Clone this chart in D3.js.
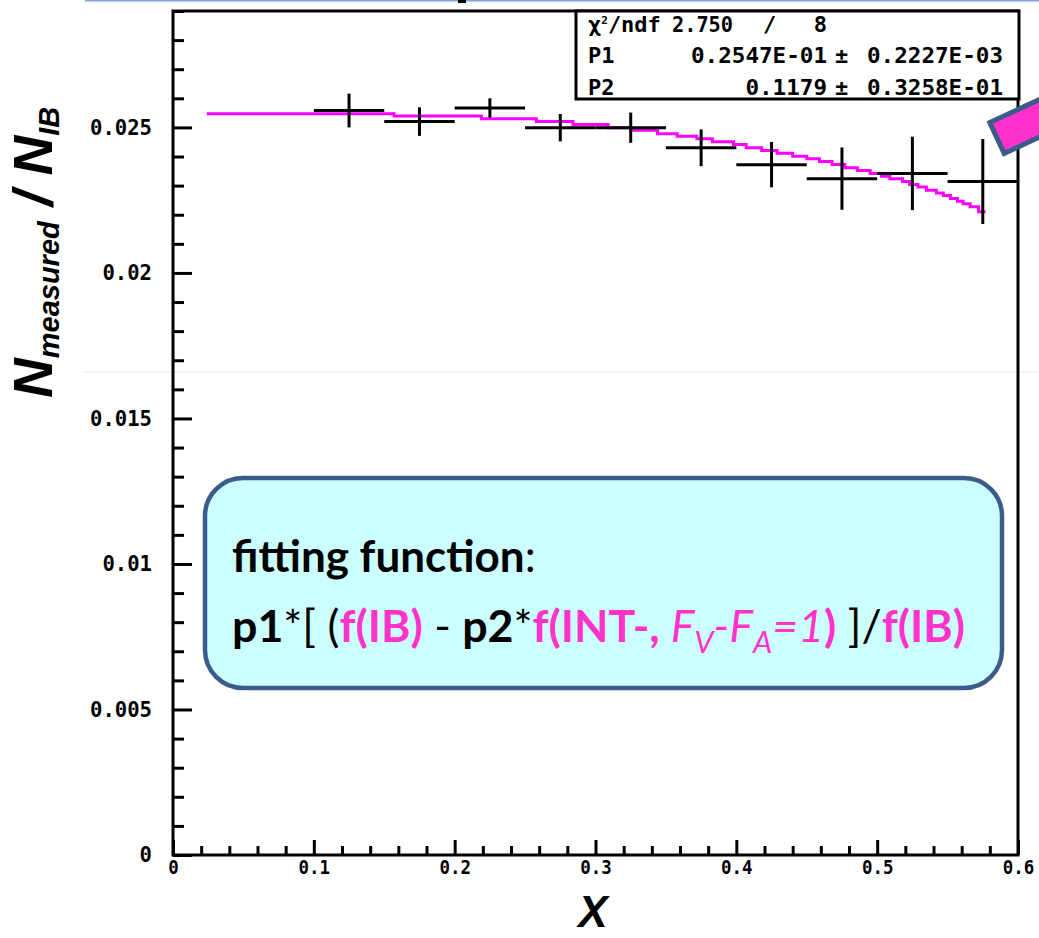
<!DOCTYPE html>
<html>
<head>
<meta charset="utf-8">
<script src="https://cdn.jsdelivr.net/npm/d3@7"></script>
<style>
  body { margin: 0; background: #fff; }
  svg { display: block; }
</style>
</head>
<body>
<div id="chart"></div>
<script>
// measured ratio per x bin (bin width 0.05) and its error
var binCenters = [0.125, 0.175, 0.225, 0.275, 0.325, 0.375, 0.425, 0.475, 0.525, 0.575];
var binHalfWidth = 0.025;
var ratioValues = [0.02558, 0.02520, 0.02567, 0.02499, 0.02499, 0.02430, 0.02372, 0.02324, 0.02342, 0.02314];
var ratioErrors = [0.00058, 0.00049, 0.00033, 0.00047, 0.00052, 0.00063, 0.00078, 0.00107, 0.00126, 0.00146];

// fitted function (step start x, value)
var fitX = [0.024, 0.157, 0.219, 0.258, 0.284, 0.309, 0.325, 0.344, 0.358, 0.372, 0.383, 0.398, 0.407, 0.418, 0.429,
            0.440, 0.450, 0.459, 0.468, 0.477, 0.486, 0.495, 0.503, 0.509, 0.518, 0.523, 0.529, 0.535, 0.542, 0.547,
            0.552, 0.557, 0.561, 0.566, 0.572, 0.577];
var fitY = [0.02547, 0.02539, 0.02530, 0.02520, 0.02510, 0.02499, 0.02490, 0.02478, 0.02470, 0.02461, 0.02451, 0.02441, 0.02430, 0.02421, 0.02411,
            0.02401, 0.02392, 0.02383, 0.02373, 0.02361, 0.02352, 0.02342, 0.02332, 0.02324, 0.02314, 0.02304, 0.02295, 0.02284, 0.02275, 0.02266,
            0.02256, 0.02246, 0.02238, 0.02227, 0.02210, 0.02210];

// axis ticks
var xMajorTicks = [0, 0.1, 0.2, 0.3, 0.4, 0.5, 0.6];
var xTickLabels = ["0", "0.1", "0.2", "0.3", "0.4", "0.5", "0.6"];
var yMajorTicks = [0, 0.005, 0.01, 0.015, 0.02, 0.025];
var yTickLabels = ["0", "0.005", "0.01", "0.015", "0.02", "0.025"];

// stats box
var statNames = ["P1", "P2"];
var statValues = ["0.2547E-01", "0.1179"];
var statErrors = ["0.2227E-03", "0.3258E-01"];
var chi2 = "2.750", ndf = "8";

var W = 1039, H = 938;
var frame = {left: 173, right: 1018, top: 11, bottom: 855};
var magenta = "#ff00ff", pink = "#ff33cc", navy = "#3b5b8a";

var svg = d3.select("#chart").append("svg").attr("width", W).attr("height", H);

// slide leftovers
svg.append("line").attr("x1", 85).attr("x2", W).attr("y1", 0.5).attr("y2", 0.5)
	.style("stroke", "#7fa8d8").style("stroke-width", 2);
svg.append("line").attr("x1", 85).attr("x2", W).attr("y1", 372).attr("y2", 372)
	.style("stroke", "#dde7f3").style("stroke-width", 1);
svg.append("rect").attr("x", 458).attr("y", 0).attr("width", 8).attr("height", 3).style("fill", "#000");

var x = d3.scaleLinear().domain([0, 0.6]).range([frame.left, frame.right]);
var y = d3.scaleLinear().domain([0, 0.029]).range([frame.bottom, frame.top]);

var pixFont = "'DejaVu Sans Mono', 'Liberation Mono', monospace";

// minor ticks
var xMinor = d3.range(0, 0.6001, 0.02).filter(function(v){ return Math.abs(v * 10 - Math.round(v * 10)) > 1e-6; });
var yMinor = d3.range(0, 0.02901, 0.001).filter(function(v){ return Math.abs(v * 200 - Math.round(v * 200)) > 1e-6; });

svg.append("g").attr("transform", "translate(0," + frame.bottom + ")")
	.call(d3.axisBottom(x).tickValues(xMinor).tickSize(-9).tickSizeOuter(0).tickFormat(""));
svg.append("g").attr("transform", "translate(" + frame.left + ",0)")
	.call(d3.axisLeft(y).tickValues(yMinor).tickSize(-11).tickSizeOuter(0).tickFormat(""));

var xAxis = svg.append("g").attr("transform", "translate(0," + frame.bottom + ")")
	.call(d3.axisBottom(x).tickValues(xMajorTicks).tickSize(-15).tickSizeOuter(0).tickPadding(6)
		.tickFormat(function(d, i){ return xTickLabels[i]; }));
var yAxis = svg.append("g").attr("transform", "translate(" + frame.left + ",0)")
	.call(d3.axisLeft(y).tickValues(yMajorTicks).tickSize(-19).tickSizeOuter(0).tickPadding(21)
		.tickFormat(function(d, i){ return yTickLabels[i]; }));

svg.selectAll(".tick line").style("stroke", "#000").style("stroke-width", 3);
svg.selectAll(".domain").remove();
xAxis.selectAll("text").style("font-family", pixFont).style("font-weight", "bold").style("font-size", "19px")
	.attr("textLength", function(d, i){ return xTickLabels[i].length * 10.5; }).attr("lengthAdjust", "spacingAndGlyphs");
yAxis.selectAll("text").style("font-family", pixFont).style("font-weight", "bold").style("font-size", "21px")
	.attr("textLength", function(d, i){ return yTickLabels[i].length * 12.4; }).attr("lengthAdjust", "spacingAndGlyphs");

// frame
svg.append("rect").attr("x", frame.left).attr("y", frame.top)
	.attr("width", frame.right - frame.left).attr("height", frame.bottom - frame.top)
	.style("fill", "none").style("stroke", "#000").style("stroke-width", 3);

// fit curve
var fitPts = fitX.map(function(v, i){ return [v, fitY[i]]; });
svg.append("path").datum(fitPts)
	.attr("d", d3.line().x(function(d){ return x(d[0]); }).y(function(d){ return y(d[1]); }).curve(d3.curveStepAfter))
	.style("fill", "none").style("stroke", magenta).style("stroke-width", 3);

// data points with error bars
var pts = svg.selectAll(".pt").data(binCenters).enter().append("g").attr("class", "pt");
pts.append("line")
	.attr("x1", function(d){ return x(d - binHalfWidth); })
	.attr("x2", function(d){ return x(d + binHalfWidth); })
	.attr("y1", function(d, i){ return y(ratioValues[i]); })
	.attr("y2", function(d, i){ return y(ratioValues[i]); });
pts.append("line")
	.attr("x1", function(d){ return x(d); })
	.attr("x2", function(d){ return x(d); })
	.attr("y1", function(d, i){ return y(ratioValues[i] - ratioErrors[i]); })
	.attr("y2", function(d, i){ return y(ratioValues[i] + ratioErrors[i]); });
pts.selectAll("line").style("stroke", "#000").style("stroke-width", 3);

// stats box
svg.append("rect").attr("x", 576).attr("y", frame.top).attr("width", 443).attr("height", 88)
	.style("fill", "#fff").style("stroke", "#000").style("stroke-width", 3);
var stat = svg.append("g").style("font-family", pixFont).style("font-weight", "bold").style("font-size", "22px");
var chiRow = stat.append("text").attr("x", 588).attr("y", 32);
chiRow.append("tspan").text("χ");
chiRow.append("tspan").attr("dy", -8).style("font-size", "11px").text("2");
chiRow.append("tspan").attr("dy", 8).text("/ndf");
stat.append("text").attr("x", 672).attr("y", 32).attr("textLength", 61).attr("lengthAdjust", "spacingAndGlyphs").text(chi2);
stat.append("text").attr("x", 763).attr("y", 32).text("/");
stat.append("text").attr("x", 827).attr("y", 32).attr("text-anchor", "end").text(ndf);
statNames.forEach(function(n, i){
	var by = 63 + i * 32;
	stat.append("text").attr("x", 588).attr("y", by).text(n);
	stat.append("text").attr("x", 827).attr("y", by).attr("text-anchor", "end")
		.attr("textLength", statValues[i].length * 13.6).attr("lengthAdjust", "spacingAndGlyphs").text(statValues[i]);
	stat.append("text").attr("x", 835).attr("y", by).text("±");
	stat.append("text").attr("x", 867).attr("y", by)
		.attr("textLength", statErrors[i].length * 13.6).attr("lengthAdjust", "spacingAndGlyphs").text(statErrors[i]);
});

// axis titles
var yTitle = svg.append("text").attr("transform", "translate(52,398) rotate(-90)")
	.style("font-family", "'Liberation Sans', Arial, sans-serif").style("font-weight", "bold").style("font-style", "italic")
	.style("font-size", "55px");
yTitle.append("tspan").text("N");
yTitle.append("tspan").attr("dy", 7).style("font-size", "29px").text("measured");
yTitle.append("tspan").attr("dy", -7).text(" / N");
yTitle.append("tspan").attr("dy", 7).style("font-size", "29px").text("IB");

svg.append("text").attr("x", 593).attr("y", 927).attr("text-anchor", "middle")
	.style("font-family", "'Liberation Sans', Arial, sans-serif").style("font-weight", "bold").style("font-style", "italic")
	.style("font-size", "44px").text("X");

// fitting function note
svg.append("rect").attr("x", 205).attr("y", 478).attr("width", 797).attr("height", 210).attr("rx", 38).attr("ry", 38)
	.style("fill", "#ccffff").style("stroke", navy).style("stroke-width", 4.5);
var note = svg.append("g").style("font-family", "Lato, 'Open Sans', sans-serif").style("font-size", "44px");
var l1 = note.append("text").attr("x", 232).attr("y", 572);
l1.append("tspan").style("font-weight", "bold").text("fitting function");
l1.append("tspan").text(":");
var l2 = note.append("text").attr("x", 232).attr("y", 642);
var parts = [
	["p1", "#000", "bold", "normal", 0],
	["*[ (", "#000", "normal", "normal", 0],
	["f(IB)", pink, "bold", "normal", 0],
	[" - ", "#000", "normal", "normal", 0],
	["p2", "#000", "bold", "normal", 0],
	["*", "#000", "normal", "normal", 0],
	["f(INT-, ", pink, "bold", "normal", 0],
	["F", pink, "normal", "italic", 0],
	["V", pink, "normal", "italic", 1],
	["-F", pink, "normal", "italic", -1],
	["A", pink, "normal", "italic", 1],
	["=1", pink, "normal", "italic", -1],
	[")", pink, "bold", "normal", 0],
	[" ]/", "#000", "normal", "normal", 0],
	["f(IB)", pink, "bold", "normal", 0]
];
parts.forEach(function(p){
	var t = l2.append("tspan").style("fill", p[1]).style("font-weight", p[2]).style("font-style", p[3]).text(p[0]);
	if (p[4] == 1) t.attr("dy", 11).style("font-size", "30px");
	if (p[4] == -1) t.attr("dy", -11);
});
l2.attr("textLength", 733).attr("lengthAdjust", "spacingAndGlyphs");

// pink arrow coming in from the right edge
var ang = -25 * Math.PI / 180;
var ax = 997, ay = 138, len = 120, half = 17;
var ux = Math.cos(ang), uy = Math.sin(ang), nx = -uy, ny = ux;
var arrowPts = [
	[ax - nx * half, ay - ny * half],
	[ax - nx * half + ux * len, ay - ny * half + uy * len],
	[ax + nx * half + ux * len, ay + ny * half + uy * len],
	[ax + nx * half, ay + ny * half]
];
svg.append("polygon").attr("points", arrowPts.map(function(p){ return p.join(","); }).join(" "))
	.style("fill", pink).style("stroke", navy).style("stroke-width", 5);
</script>
</body>
</html>
